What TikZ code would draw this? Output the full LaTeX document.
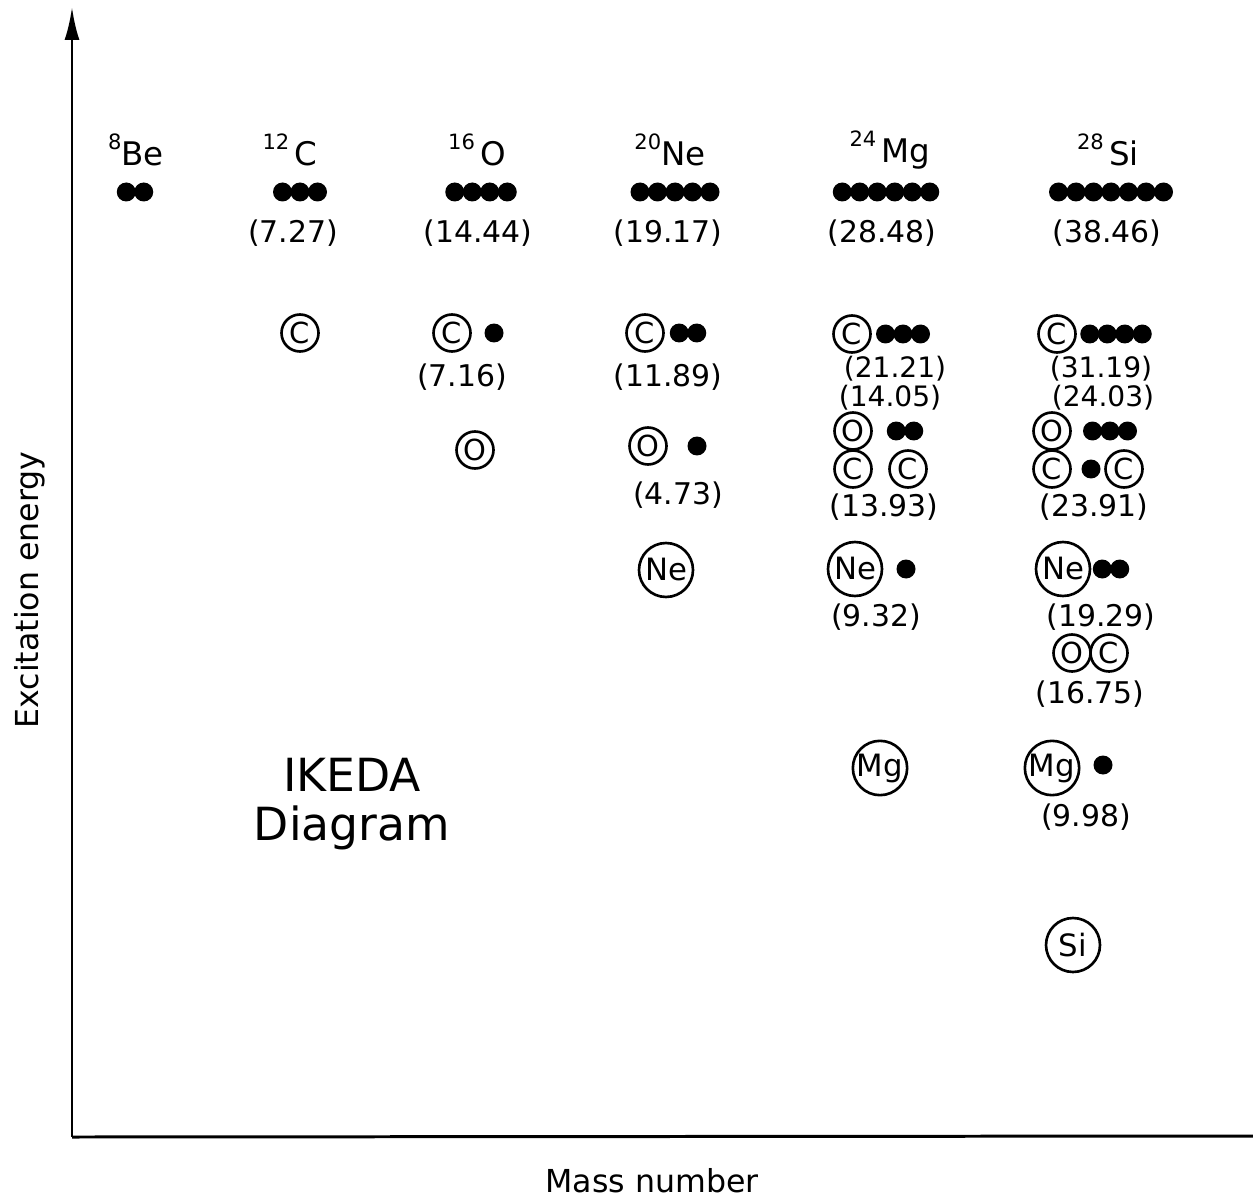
\documentclass[tikz,border=0pt]{standalone}
\usepackage{fontspec}
\setmainfont{DejaVu Sans}
\usetikzlibrary{arrows.meta}
\newcommand\fsz[1]{\fontsize{#1}{#1}\selectfont}
\newcommand\sups[1]{\raisebox{0.5em}{\fsz{12}#1}}
\newcommand\dotrow[4]{\foreach \k in {1,...,#4}{\node[dotn] (#1\k) at ({#2+(\k-(#4+1)/2)*17.5},#3) {};}}
\begin{document}
\begin{tikzpicture}[x=0.02cm,y=-0.02cm,
  dotn/.style={circle,fill,inner sep=0,minimum size=0.38cm},
  nuc/.style={circle,draw,line width=1.5pt,inner sep=0,minimum size=0.74cm,font=\fsz{16.5}},
  bignuc/.style={circle,draw,line width=1.5pt,inner sep=0,minimum size=1.08cm,font=\fsz{17.5}},
  val/.style={font=\fsz{17}},
  valsm/.style={font=\fsz{16}},
  head/.style={font=\fsz{18.5}},
  axlab/.style={font=\fsz{18}},
  axis/.style={line width=1.7pt}]
\useasboundingbox (0,0) rectangle (1253,1202);
\fill[white] (0,0) rectangle (1253,1202);
% axes
\coordinate (O) at (72,1137);
\coordinate (top) at (72,7);
\coordinate (right) at (1253,1136);
\draw[axis,-{Latex[length=0.66cm,width=0.3cm]}] (O) -- (top);
\draw[axis] (O) -- (right);
\node[axlab,rotate=90] (ylab) at (30,590) {Excitation energy};
\node[axlab] (xlab) at (652,1181) {Mass number};
% headers
\node[head] (hBe) at (136,150) {\sups{8}Be};
\node[head] (hC) at (290,150) {\sups{12}\,C};
\node[head] (hO) at (477,150) {\sups{16}\,O};
\node[head] (hNe) at (670,150) {\sups{20}Ne};
\node[head] (hMg) at (890,150) {\sups{24}\,Mg};
\node[head] (hSi) at (1108,150) {\sups{28}\,Si};
% ground-state chains
\dotrow{be}{135}{192}{2}
\dotrow{cc}{300}{192}{3}
\dotrow{oo}{481}{192}{4}
\dotrow{ne}{675}{192}{5}
\dotrow{mg}{886}{192}{6}
\dotrow{si}{1111}{192}{7}
\node[val] (vC) at (293,233) {(7.27)};
\node[val] (vO) at (478,233) {(14.44)};
\node[val] (vNe) at (668,233) {(19.17)};
\node[val] (vMg) at (882,233) {(28.48)};
\node[val] (vSi) at (1107,233) {(38.46)};
% C row
\node[nuc] (c12c) at (300,333) {C};
\node[nuc] (o16c) at (452,333) {C};
\node[dotn] (o16d) at (494,333) {};
\node[val] (v716) at (462,377) {(7.16)};
\node[nuc] (ne20c) at (645,333) {C};
\dotrow{nec}{688}{333}{2}
\node[val] (v1189) at (668,377) {(11.89)};
\node[nuc] (mg24c) at (852,334) {C};
\dotrow{mgc}{903}{334}{3}
\node[valsm] (v2121) at (895,369) {(21.21)};
\node[valsm] (v1405) at (890,398) {(14.05)};
\node[nuc] (si28c) at (1057,334) {C};
\dotrow{sic}{1116}{334}{4}
\node[valsm] (v3119) at (1101,369) {(31.19)};
\node[valsm] (v2403) at (1103,398) {(24.03)};
\node[nuc] (mg24o) at (853,431) {O};
\dotrow{mgo}{905}{431}{2}
\node[nuc] (mg24cc1) at (853,469) {C};
\node[nuc] (mg24cc2) at (908,469) {C};
\node[val] (v1393) at (884,507) {(13.93)};
\node[nuc] (si28o) at (1052,431) {O};
\dotrow{sio}{1110}{431}{3}
\node[nuc] (si28cc1) at (1052,469) {C};
\node[dotn] (si28ccd) at (1091,469) {};
\node[nuc] (si28cc2) at (1124,469) {C};
\node[val] (v2391) at (1094,507) {(23.91)};
% O row
\node[nuc] (o16o) at (475,450) {O};
\node[nuc] (ne20o) at (648,446) {O};
\node[dotn] (ne20od) at (697,446) {};
\node[val] (v473) at (678,495) {(4.73)};
% Ne row
\node[bignuc] (ne20ne) at (666,570) {Ne};
\node[bignuc] (mg24ne) at (855,569) {Ne};
\node[dotn] (mg24ned) at (906,569) {};
\node[val] (v932) at (876,617) {(9.32)};
\node[bignuc] (si28ne) at (1063,569) {Ne};
\dotrow{sine}{1111}{569}{2}
\node[val] (v1929) at (1101,617) {(19.29)};
\node[nuc] (si28oc1) at (1072,653) {O};
\node[nuc] (si28oc2) at (1109,653) {C};
\node[val] (v1675) at (1090,694) {(16.75)};
% Mg row
\node[bignuc] (mg24mg) at (880,768) {Mg};
\node[bignuc] (si28mg) at (1052,768) {Mg};
\node[dotn] (si28mgd) at (1103,765) {};
\node[val] (v998) at (1086,817) {(9.98)};
% Si
\node[bignuc] (si28si) at (1073,945) {Si};
% title
\node[font=\fsz{26}] (t1) at (352,775) {IKEDA};
\node[font=\fsz{26}] (t2) at (352,828) {Diagram};
\end{tikzpicture}
\end{document}
